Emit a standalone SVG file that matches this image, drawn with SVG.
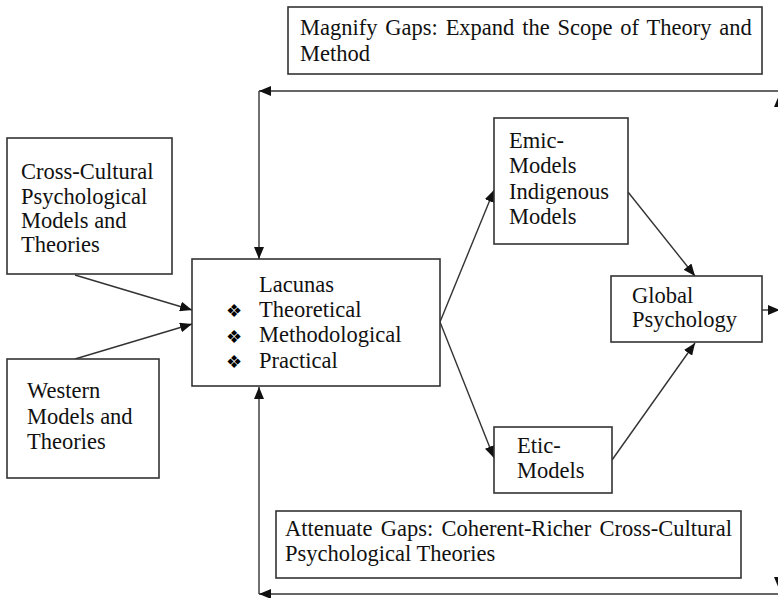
<svg xmlns="http://www.w3.org/2000/svg" width="778" height="598" viewBox="0 0 778 598">
  <style>
    .box { fill: #fff; stroke: #333; stroke-width: 1.6; }
    .lbl { font-family: "Liberation Serif", "Times New Roman", serif; font-size: 22.5px; fill: #111; }
    .bul { font-family: "DejaVu Sans", sans-serif; font-size: 18px; fill: #000; }
    .edge { fill: none; stroke: #333; stroke-width: 1.4; }
  </style>
  <defs>
    <marker id="arrow" viewBox="0 0 12 10" refX="12" refY="5" markerWidth="12" markerHeight="10" markerUnits="userSpaceOnUse" orient="auto">
      <path d="M0,0 L12,5 L0,10 Z" fill="#111"/>
    </marker>
  </defs>

  <rect width="778" height="598" fill="#fff"/>

  <!-- connectors -->
  <g id="connectors">
    <!-- top feedback loop -->
    <line class="edge" x1="779" y1="91" x2="259" y2="91" marker-end="url(#arrow)"/>
    <line class="edge" x1="259" y1="91" x2="259" y2="259" marker-end="url(#arrow)"/>
    <line class="edge" x1="779" y1="300" x2="779" y2="95" marker-end="url(#arrow)"/>
    <!-- bottom feedback loop -->
    <line class="edge" x1="779" y1="594" x2="259" y2="594" marker-end="url(#arrow)"/>
    <line class="edge" x1="259" y1="594" x2="259" y2="387" marker-end="url(#arrow)"/>
    <line class="edge" x1="779" y1="320" x2="779" y2="589" marker-end="url(#arrow)"/>
    <!-- inputs to Lacunas -->
    <line class="edge" x1="75" y1="275" x2="192" y2="310" marker-end="url(#arrow)"/>
    <line class="edge" x1="75" y1="359" x2="192" y2="324" marker-end="url(#arrow)"/>
    <!-- Lacunas to models -->
    <line class="edge" x1="440" y1="322" x2="494" y2="190" marker-end="url(#arrow)"/>
    <line class="edge" x1="440" y1="322" x2="494" y2="458" marker-end="url(#arrow)"/>
    <!-- models to Global Psychology -->
    <line class="edge" x1="628" y1="192" x2="695" y2="276" marker-end="url(#arrow)"/>
    <line class="edge" x1="612" y1="460" x2="695" y2="343" marker-end="url(#arrow)"/>
    <!-- Global Psychology out -->
    <line class="edge" x1="762" y1="310" x2="780" y2="310" marker-end="url(#arrow)"/>
  </g>

  <g id="magnify">
    <rect class="box" x="288" y="7" width="474" height="67"/>
    <text class="lbl" x="300" y="35" word-spacing="2.2">Magnify Gaps: Expand the Scope of Theory and</text>
    <text class="lbl" x="300" y="61">Method</text>
  </g>

  <g id="cross-cultural">
    <rect class="box" x="7" y="138" width="165" height="136"/>
    <text class="lbl" x="21" y="179">Cross-Cultural</text>
    <text class="lbl" x="21" y="204">Psychological</text>
    <text class="lbl" x="21" y="228">Models and</text>
    <text class="lbl" x="21" y="252">Theories</text>
  </g>

  <g id="western">
    <rect class="box" x="7" y="359" width="152" height="119"/>
    <text class="lbl" x="27" y="398">Western</text>
    <text class="lbl" x="27" y="424">Models and</text>
    <text class="lbl" x="27" y="449">Theories</text>
  </g>

  <g id="lacunas">
    <rect class="box" x="192" y="259" width="248" height="127"/>
    <text class="lbl" x="259" y="292">Lacunas</text>
    <text class="bul" x="226" y="317">❖</text>
    <text class="lbl" x="259" y="317">Theoretical</text>
    <text class="bul" x="226" y="343">❖</text>
    <text class="lbl" x="259" y="342">Methodological</text>
    <text class="bul" x="226" y="368">❖</text>
    <text class="lbl" x="259" y="368">Practical</text>
  </g>

  <g id="emic">
    <rect class="box" x="494" y="118" width="134" height="126"/>
    <text class="lbl" x="509" y="148">Emic-</text>
    <text class="lbl" x="509" y="173">Models</text>
    <text class="lbl" x="509" y="199">Indigenous</text>
    <text class="lbl" x="509" y="224">Models</text>
  </g>

  <g id="global">
    <rect class="box" x="611" y="276" width="151" height="66"/>
    <text class="lbl" x="632" y="303">Global</text>
    <text class="lbl" x="632" y="327">Psychology</text>
  </g>

  <g id="etic">
    <rect class="box" x="494" y="427" width="118" height="66"/>
    <text class="lbl" x="517" y="453">Etic-</text>
    <text class="lbl" x="517" y="478">Models</text>
  </g>

  <g id="attenuate">
    <rect class="box" x="276" y="511" width="465" height="67"/>
    <text class="lbl" x="285" y="536" word-spacing="2.6">Attenuate Gaps: Coherent-Richer Cross-Cultural</text>
    <text class="lbl" x="285" y="561">Psychological Theories</text>
  </g>
</svg>
